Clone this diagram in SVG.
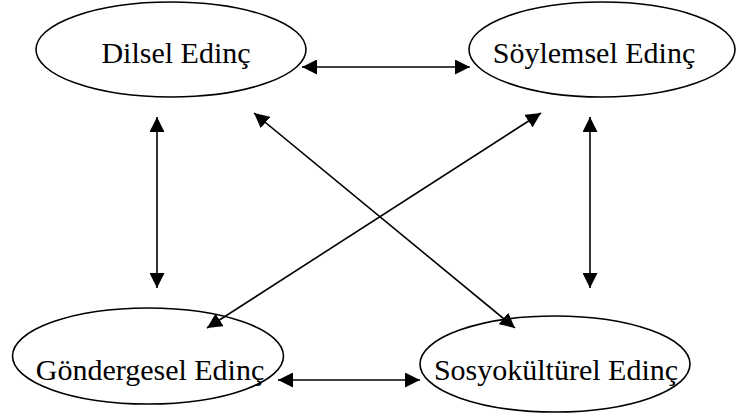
<svg xmlns="http://www.w3.org/2000/svg" width="737" height="416" viewBox="0 0 737 416">
<style>
.node ellipse{fill:#fff;stroke:#000;stroke-width:1.6}
.node text{font-family:"Liberation Serif","Times New Roman",serif;font-size:30px;fill:#000;text-anchor:middle}
.conn line{stroke:#000;stroke-width:1.6;fill:none;marker-start:url(#ah);marker-end:url(#ah)}
</style>
<defs>
<marker id="ah" viewBox="0 0 10 10" refX="10" refY="5" markerWidth="15" markerHeight="15" markerUnits="userSpaceOnUse" orient="auto-start-reverse">
<path d="M0,0 L10,5 L0,10 z" fill="#000"/>
</marker>
</defs>
<rect width="737" height="416" fill="#fff"/>
<g id="n-dilsel" class="node">
<ellipse cx="171" cy="49.5" rx="135" ry="47.5"/>
<text x="176" y="63">Dilsel Edinç</text>
</g>
<g id="n-soylemsel" class="node">
<ellipse cx="602" cy="49.5" rx="133" ry="47.5"/>
<text x="594" y="63">Söylemsel Edinç</text>
</g>
<g id="n-gondergesel" class="node">
<ellipse cx="148" cy="356" rx="135.5" ry="48"/>
<text x="150" y="380">Göndergesel Edinç</text>
</g>
<g id="n-sosyokulturel" class="node">
<ellipse cx="555" cy="364" rx="135" ry="48"/>
<text x="556" y="380">Sosyokültürel Edinç</text>
</g>
<g id="connectors" class="conn">
<line x1="302" y1="67" x2="470" y2="67"/>
<line x1="157" y1="117" x2="157" y2="288"/>
<line x1="590" y1="117" x2="590" y2="288"/>
<line x1="254" y1="113" x2="515" y2="328"/>
<line x1="541" y1="113" x2="207" y2="328"/>
<line x1="278" y1="380" x2="420" y2="380"/>
</g>
</svg>
